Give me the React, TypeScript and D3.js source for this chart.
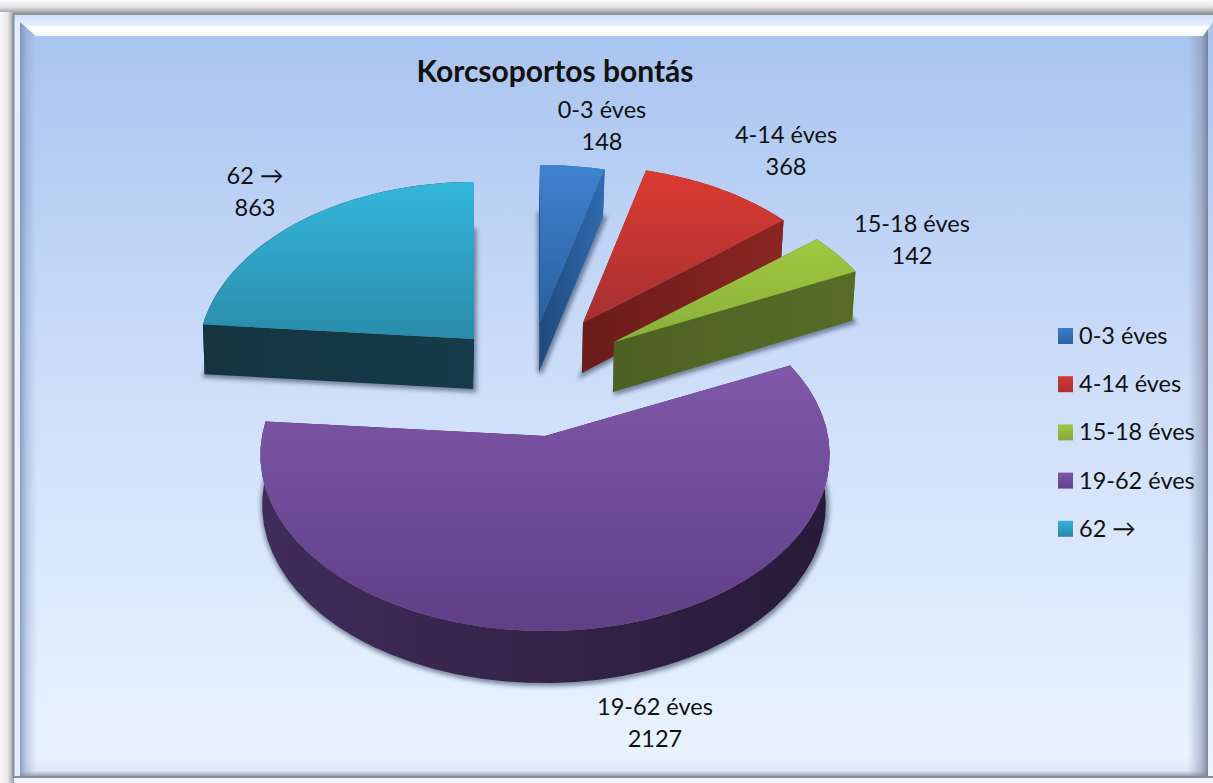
import React from "react";
import * as d3 from "d3";

const categories = ["0-3 éves", "4-14 éves", "15-18 éves", "19-62 éves", "62 →"];
const values = [148, 368, 142, 2127, 863];
// how far each slice is pulled out of the pie, in px from the pie centre
const pullX = [8, 51, 82, 13, -58];
const pullY = [-50, -49, -30, 64, -33];
const spread = [1, 0.975, 0.985, 1, 0.97];
const topColors = [
  ["#3f83d0", "#2b5f9e"],
  ["#dc3a32", "#a63030"],
  ["#a0c83e", "#8aaf3a"],
  ["#8058aa", "#5f3f86"],
  ["#33b6da", "#2a8cab"],
];
const wallColors = [
  ["#2f6bb0", "#1f4a7c"],
  ["#8a2622", "#6a1c1a"],
  ["#586c28", "#4e6124"],
  ["#402c5a", "#281a38"],
  ["#153c4a", "#153440"],
];
const legendColors = [
  ["#3a7cc8", "#2c5f9e"],
  ["#d43a34", "#a93030"],
  ["#a2c840", "#87a838"],
  ["#7e58a8", "#5f4086"],
  ["#33b4d6", "#2a86a4"],
];
// label anchors: [centre x, first baseline]
const labelSpots = [
  [602, 118],
  [786, 143],
  [912, 232],
  [655, 715],
  [255, 184],
];
const paintOrder = [4, 0, 1, 2, 3];

const FONT = "Lato, 'Noto Sans', sans-serif";
const cx = 532;
const cy = 372;
const radiusX = 283;
const radiusY = 174;
const persp = 0.108;

const pieGen = d3.pie<number>().sort(null);
const arcs = pieGen(values);
const line = d3.line();

const slices = arcs.map((a, i) => {
  const ax = cx + pullX[i];
  const ay = cy + pullY[i];
  const steps = d3.range(0, 49).map(
    (k) => a.startAngle + ((a.endAngle - a.startAngle) * k) / 48
  );
  // top face point for a unit-disc position, with a little perspective
  const topPt = (u: number, v: number) => {
    const s = 1 / (1 + persp * v);
    return [ax + radiusX * spread[i] * u * s, ay - radiusY * v * s] as [number, number];
  };
  // same point on the lower face
  const lowPt = (u: number, v: number) => {
    const p = topPt(u, v);
    return [ax - 1 + (p[0] - ax) * 0.99, p[1] + 50 - 2 * v] as [number, number];
  };
  const rimTop = steps.map((t) => topPt(Math.sin(t), Math.cos(t)));
  const rimLow = steps.map((t) => lowPt(Math.sin(t), Math.cos(t)));
  const apexTop = topPt(0, 0);
  const apexLow = lowPt(0, 0);
  return {
    top: line([apexTop, ...rimTop])! + "Z",
    bottom: line([apexLow, ...rimLow])! + "Z",
    wallA: line([apexTop, rimTop[0], rimLow[0], apexLow])! + "Z",
    wallB: line([apexTop, rimTop[48], rimLow[48], apexLow])! + "Z",
    outer: line([...rimTop, ...rimLow.slice().reverse()])! + "Z",
  };
});

export default function App() {
  const w = 1213;
  const h = 783;
  return (
    <svg
      width={w}
      height={h}
      style={{ position: "absolute", left: 0, top: 0, display: "block" }}
    >
      <defs>
        <linearGradient id="bg" x1="0" y1="0" x2="0" y2="1">
          <stop offset="0%" stopColor="#a7c3ef" />
          <stop offset="50%" stopColor="#cfdffa" />
          <stop offset="100%" stopColor="#ebf4ff" />
        </linearGradient>
        <linearGradient id="shTop" x1="0" y1="0" x2="0" y2="1">
          <stop offset="0%" stopColor="#fbfafa" />
          <stop offset="50%" stopColor="#e4e2e2" />
          <stop offset="100%" stopColor="#8d8f98" />
        </linearGradient>
        <linearGradient id="shLeft" x1="0" y1="0" x2="1" y2="0">
          <stop offset="0%" stopColor="#fbfafa" />
          <stop offset="55%" stopColor="#e6e4e4" />
          <stop offset="100%" stopColor="#9a9ca4" />
        </linearGradient>
        <linearGradient id="bevelTop" x1="0" y1="0" x2="0" y2="1">
          <stop offset="0%" stopColor="#cfe0f8" />
          <stop offset="45%" stopColor="#e2eefc" />
          <stop offset="60%" stopColor="#ffffff" />
          <stop offset="100%" stopColor="#f4f9ff" />
        </linearGradient>
        <linearGradient id="fadeLeft" x1="0" y1="0" x2="1" y2="0">
          <stop offset="0%" stopColor="#6f86ad" stopOpacity={0.75} />
          <stop offset="35%" stopColor="#7f97c0" stopOpacity={0.4} />
          <stop offset="100%" stopColor="#9db9e6" stopOpacity={0} />
        </linearGradient>
        <linearGradient id="fadeRight" x1="0" y1="0" x2="1" y2="0">
          <stop offset="0%" stopColor="#8a94ae" stopOpacity={0} />
          <stop offset="65%" stopColor="#8a94ae" stopOpacity={0.55} />
          <stop offset="100%" stopColor="#767e93" stopOpacity={0.95} />
        </linearGradient>
        <linearGradient id="fadeBottom" x1="0" y1="0" x2="0" y2="1">
          <stop offset="0%" stopColor="#8a94ae" stopOpacity={0} />
          <stop offset="70%" stopColor="#8a94ae" stopOpacity={0.12} />
          <stop offset="100%" stopColor="#7a8090" stopOpacity={0.85} />
        </linearGradient>
        <filter id="soft" x="-10%" y="-10%" width="120%" height="120%">
          <feGaussianBlur stdDeviation="2" />
        </filter>
        {categories.map((_, i) => (
          <React.Fragment key={i}>
            <linearGradient id={`top${i}`} x1="0" y1="0" x2="0" y2="1">
              <stop offset="0%" stopColor={topColors[i][0]} />
              <stop offset="100%" stopColor={topColors[i][1]} />
            </linearGradient>
            <linearGradient id={`wall${i}`} x1="0" y1="0" x2="1" y2="0">
              <stop offset="0%" stopColor={wallColors[i][0]} />
              <stop offset="100%" stopColor={wallColors[i][1]} />
            </linearGradient>
            <linearGradient id={`rad${i}`} x1="0" y1="0" x2="1" y2="0">
              <stop offset="0%" stopColor={wallColors[i][1]} />
              <stop offset="100%" stopColor={wallColors[i][0]} />
            </linearGradient>
            <linearGradient id={`leg${i}`} x1="0" y1="0" x2="0" y2="1">
              <stop offset="0%" stopColor={legendColors[i][0]} />
              <stop offset="100%" stopColor={legendColors[i][1]} />
            </linearGradient>
          </React.Fragment>
        ))}
      </defs>

      <rect width={w} height={h} fill="#f3f5fa" />
      <rect width={w} height={14} fill="url(#shTop)" />
      <rect y={12} width={14} height={h - 12} fill="url(#shLeft)" />
      <rect x={14} y={14} width={1199} height={763} fill="url(#bg)" />
      <rect x={1188} y={14} width={20} height={763} fill="url(#fadeRight)" />
      <rect x={20} y={756} width={1188} height={21} fill="url(#fadeBottom)" />
      <rect x={20} y={22} width={18} height={755} fill="url(#fadeLeft)" />
      <rect x={14} y={15} width={6} height={762} fill="#e4edfb" />
      <path d="M14,15H1213V22L1203,36H36L20,22H14Z" fill="url(#bevelTop)" />
      <rect x={12.5} y={13} width={2} height={765} fill="#868c99" />
      <rect x={12.5} y={13} width={1200.5} height={2} fill="#8e929c" />
      <rect x={12.5} y={776} width={1200.5} height={2} fill="#868c99" />

      {paintOrder.map((i) => {
        const s = slices[i];
        return (
          <g key={i}>
            <path
              d={s.bottom}
              fill="#1c2c44"
              stroke="#1c2c44"
              strokeWidth={5}
              opacity={0.5}
              filter="url(#soft)"
              transform="translate(1,1)"
            />
            <path d={s.outer} fill={`url(#wall${i})`} />
            <path d={s.wallA} fill={`url(#rad${i})`} />
            <path d={s.wallB} fill={`url(#rad${i})`} />
            <path d={s.top} fill={`url(#top${i})`} />
          </g>
        );
      })}

      <g fontFamily={FONT} fill="#111">
        <text x={555} y={82} fontSize={30} fontWeight={700} textAnchor="middle">
          Korcsoportos bontás
        </text>
        {categories.map((c, i) => (
          <g key={c} fontSize={23.5} textAnchor="middle">
            <text x={labelSpots[i][0]} y={labelSpots[i][1]}>{c}</text>
            <text x={labelSpots[i][0]} y={labelSpots[i][1] + 32}>{values[i]}</text>
          </g>
        ))}
        {categories.map((c, i) => (
          <g key={c} transform={`translate(1058,${328 + i * 48.2})`}>
            <rect width={15} height={16} fill={`url(#leg${i})`} />
            <text x={21} y={16} fontSize={23.5}>{c}</text>
          </g>
        ))}
      </g>
    </svg>
  );
}
